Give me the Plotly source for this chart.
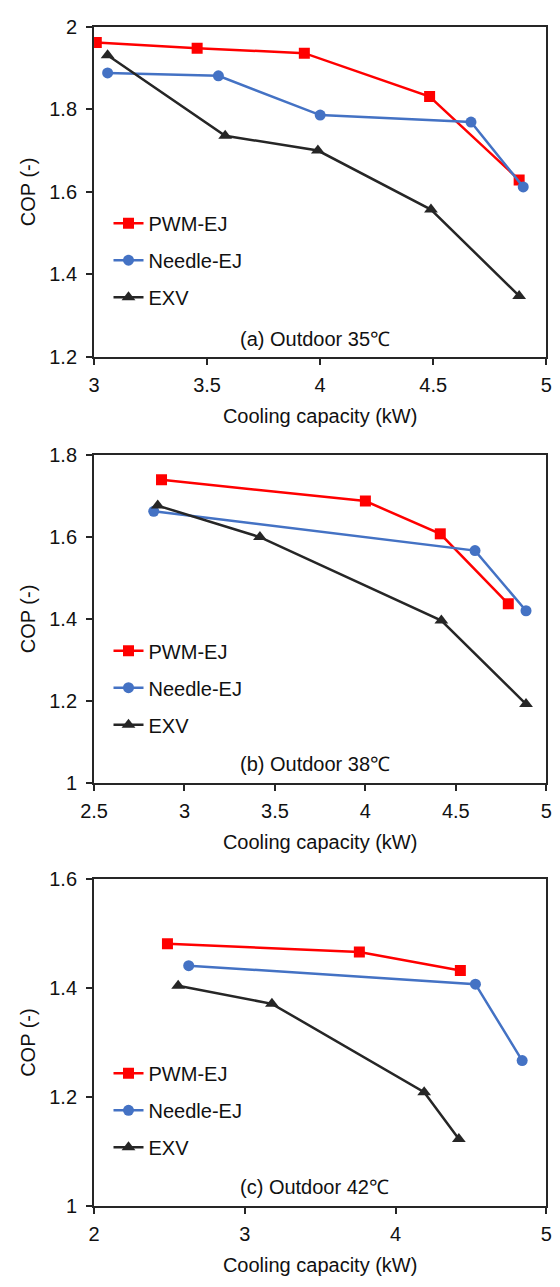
import plotly.graph_objects as go

# Panel (a) Outdoor 35°C
a_pwm_x = [3.01, 3.456, 3.93, 4.484, 4.88]
a_pwm_y = [1.962, 1.948, 1.936, 1.831, 1.629]
a_ndl_x = [3.06, 3.55, 4.0, 4.667, 4.898]
a_ndl_y = [1.888, 1.881, 1.786, 1.769, 1.612]
a_exv_x = [3.06, 3.58, 3.99, 4.49, 4.88]
a_exv_y = [1.931, 1.736, 1.70, 1.557, 1.348]

# Panel (b) Outdoor 38°C
b_pwm_x = [2.873, 4.0, 4.414, 4.79]
b_pwm_y = [1.74, 1.688, 1.608, 1.437]
b_ndl_x = [2.83, 4.606, 4.888]
b_ndl_y = [1.663, 1.567, 1.42]
b_exv_x = [2.852, 3.417, 4.42, 4.888]
b_exv_y = [1.677, 1.60, 1.396, 1.192]

# Panel (c) Outdoor 42°C
c_pwm_x = [2.487, 3.76, 4.43]
c_pwm_y = [1.481, 1.466, 1.432]
c_ndl_x = [2.628, 4.53, 4.84]
c_ndl_y = [1.441, 1.407, 1.267]
c_exv_x = [2.558, 3.18, 4.19, 4.42]
c_exv_y = [1.404, 1.371, 1.209, 1.123]

series_names = ["PWM-EJ", "Needle-EJ", "EXV"]
colors = ["#FF0000", "#4472C4", "#262626"]
symbols = ["square", "circle", "triangle-up"]
msizes = [11, 11, 12]
panel_labels = ["(a) Outdoor 35℃", "(b) Outdoor 38℃", "(c) Outdoor 42℃"]
x_ranges = [[3, 5], [2.5, 5], [2, 5]]
x_dticks = [0.5, 0.5, 1]
y_ranges = [[1.2, 2.0], [1.0, 1.8], [1.0, 1.6]]

panels = [
    [(a_pwm_x, a_pwm_y), (a_ndl_x, a_ndl_y), (a_exv_x, a_exv_y)],
    [(b_pwm_x, b_pwm_y), (b_ndl_x, b_ndl_y), (b_exv_x, b_exv_y)],
    [(c_pwm_x, c_pwm_y), (c_ndl_x, c_ndl_y), (c_exv_x, c_exv_y)],
]

W, H = 560, 1287
FONT = "Liberation Sans, Arial, sans-serif"
AX = "#262626"

# pixel layout (top, bottom) of each plot area
plot_px = [(16, 352), (452, 785), (883, 1216)]
x_px = (83, 552)
legend_top_px = [196, 631, 1061]
label_y_px = [334, 766, 1196]

fig = go.Figure()
layout = dict(
    width=W, height=H,
    margin=dict(l=0, r=0, t=0, b=0),
    paper_bgcolor="white", plot_bgcolor="white",
    font=dict(family=FONT, size=20, color="#111111"),
    annotations=[],
)

for p in range(3):
    xa = "x" if p == 0 else f"x{p+1}"
    ya = "y" if p == 0 else f"y{p+1}"
    leg = "legend" if p == 0 else f"legend{p+1}"
    for s in range(3):
        xs, ys = panels[p][s]
        fig.add_trace(go.Scatter(
            x=xs, y=ys, mode="lines+markers", name=series_names[s],
            xaxis=xa, yaxis=ya, legend=leg, legendgroup=f"p{p}s{s}",
            line=dict(color=colors[s], width=2.5),
            marker=dict(symbol=symbols[s], size=msizes[s], color=colors[s]),
        ))
    top, bot = plot_px[p]
    xkey = "xaxis" if p == 0 else f"xaxis{p+1}"
    ykey = "yaxis" if p == 0 else f"yaxis{p+1}"
    layout[xkey] = dict(
        domain=[x_px[0] / W, x_px[1] / W], anchor=ya,
        range=x_ranges[p], dtick=x_dticks[p], tick0=0,
        showline=True, mirror=True, linecolor=AX, linewidth=2,
        ticks="outside", ticklen=6, tickwidth=2, tickcolor=AX,
        ticklabelstandoff=3,
        showgrid=False, zeroline=False,
        tickfont=dict(size=20, family=FONT, color="#111111"),
        title=dict(text="Cooling capacity (kW)", font=dict(size=20, family=FONT, color="#111111"), standoff=14),
    )
    layout[ykey] = dict(
        domain=[1 - bot / H, 1 - top / H], anchor=xa,
        range=y_ranges[p], dtick=0.2, tick0=0,
        showline=True, mirror=True, linecolor=AX, linewidth=2,
        ticks="outside", ticklen=6, tickwidth=2, tickcolor=AX,
        ticklabelstandoff=5,
        showgrid=False, zeroline=False,
        tickfont=dict(size=20, family=FONT, color="#111111"),
        title=dict(text="COP (-)", font=dict(size=20, family=FONT, color="#111111"), standoff=8),
    )
    layout[leg] = dict(
        x=98 / W, y=1 - legend_top_px[p] / H, xanchor="left", yanchor="top",
        bgcolor="rgba(0,0,0,0)", borderwidth=0,
        font=dict(size=20, family=FONT, color="#111111"),
        tracegroupgap=8,
    )
    layout["annotations"].append(dict(
        text=panel_labels[p], xref="paper", yref="paper",
        x=312 / W, y=1 - label_y_px[p] / H, xanchor="center", yanchor="middle",
        showarrow=False, font=dict(size=20, family=FONT, color="#111111"),
    ))

fig.update_layout(**layout)
fig.write_html("out.html")
